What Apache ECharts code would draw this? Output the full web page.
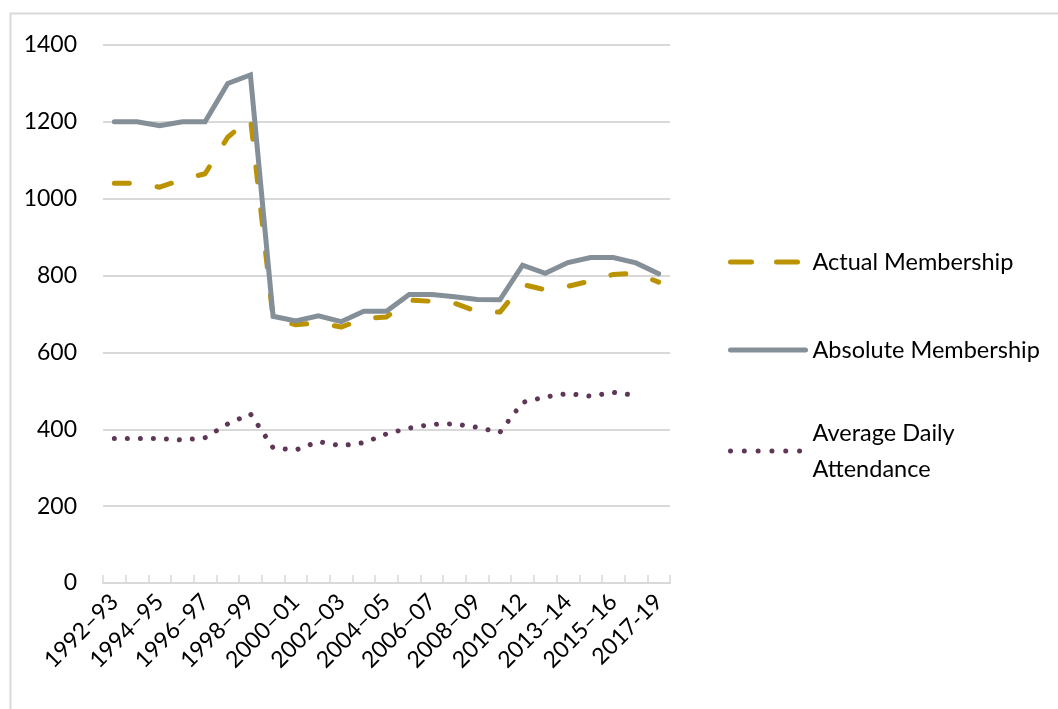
<!DOCTYPE html>
<html>
<head>
<meta charset="utf-8">
<style>
  html, body { margin: 0; padding: 0; background: #ffffff; }
  #chart { width: 1058px; height: 709px; }
</style>
<script src="https://cdn.jsdelivr.net/npm/echarts@6/dist/echarts.min.js"></script>
</head>
<body>
<div id="chart"></div>
<script>
// School years along the x axis
const years = [
  '1992–93', '1993–94', '1994–95', '1995–96', '1996–97', '1997–98', '1998–99',
  '1999–00', '2000–01', '2001–02', '2002–03', '2003–04', '2004–05', '2005–06',
  '2006–07', '2007–08', '2008–09', '2009–10', '2010–12', '2012–13', '2013–14',
  '2014–15', '2015–16', '2016–17', '2017-19'
];

// Enrolment figures per school year
const actualMembership = [
  1040, 1040, 1030, 1050, 1065, 1160, 1210, 688, 672, 677, 666, 688, 692,
  736, 733, 728, 706, 705, 777, 763, 772, 786, 803, 806, 783
];
const absoluteMembership = [
  1200, 1200, 1190, 1200, 1200, 1300, 1322, 694, 682, 695, 680, 707, 707,
  751, 751, 745, 738, 737, 827, 806, 834, 847, 847, 833, 805
];
const averageDailyAttendance = [
  376, 376, 376, 372, 378, 414, 440, 352, 346, 368, 357, 365, 388,
  403, 413, 414, 405, 392, 470, 484, 493, 486, 496, 488, null
];

// Value axis ticks
const yMin = 0, yMax = 1400, yStep = 200;

const FONT = 'Lato, "Open Sans", sans-serif';
const GOLD = '#BB9300';
const GREY = '#858F98';
const PLUM = '#5E3656';
const GRID = '#D9D9D9';

const GOLD_DASH = [15, 28];
const PLUM_DOTS = [0.01, 13];

const chart = echarts.init(document.getElementById('chart'), null, { renderer: 'canvas' });

const legendText = { color: '#000', fontFamily: FONT, fontSize: 23.5, padding: [0, 0, 0, 2] };
const legendBase = {
  left: 728, padding: 0, itemWidth: 75, itemHeight: 12, itemGap: 10,
  itemStyle: { opacity: 0, borderWidth: 0 },
  textStyle: legendText
};

chart.setOption({
  animation: false,
  backgroundColor: '#ffffff',
  textStyle: { fontFamily: FONT },
  graphic: [{
    type: 'rect',
    left: 8, top: 11,
    shape: { width: 1200, height: 800 },
    style: { fill: 'none', stroke: GRID, lineWidth: 2 },
    silent: true, z: -10
  }],
  grid: { left: 103, right: 388, top: 45, bottom: 126, containLabel: false },
  xAxis: {
    type: 'category',
    data: years,
    boundaryGap: true,
    axisLine: { lineStyle: { color: GRID, width: 2 } },
    axisTick: { show: true, inside: true, length: 8, interval: 0, lineStyle: { color: GRID, width: 1.5 } },
    axisLabel: {
      interval: 1, rotate: 45, margin: 15,
      color: '#000', fontFamily: FONT, fontSize: 23
    }
  },
  yAxis: {
    type: 'value',
    min: yMin, max: yMax, interval: yStep,
    axisLine: { show: false },
    axisTick: { show: false },
    splitLine: { lineStyle: { color: GRID, width: 2 } },
    axisLabel: {
      margin: 26, color: '#000', fontFamily: FONT, fontSize: 23,
      formatter: v => String(v)
    }
  },
  legend: [
    Object.assign({}, legendBase, {
      data: ['Actual Membership'], top: 250,
      lineStyle: { width: 5, type: [21, 25], cap: 'round' }
    }),
    Object.assign({}, legendBase, {
      data: ['Absolute Membership'], top: 338,
      lineStyle: { width: 5, cap: 'round' }
    }),
    Object.assign({}, legendBase, {
      data: ['Average Daily Attendance'], top: 397,
      lineStyle: { width: 5, type: [0.01, 13.8], cap: 'round' },
      formatter: () => 'Average Daily\nAttendance',
      textStyle: Object.assign({}, legendText, { lineHeight: 36, padding: [36, 0, 0, 2] })
    })
  ],
  series: [
    {
      name: 'Actual Membership',
      type: 'line',
      data: actualMembership,
      symbol: 'none',
      z: 2,
      itemStyle: { color: GOLD },
      lineStyle: { color: GOLD, width: 5, type: GOLD_DASH, cap: 'round', join: 'round' }
    },
    {
      name: 'Absolute Membership',
      type: 'line',
      data: absoluteMembership,
      symbol: 'none',
      z: 3,
      itemStyle: { color: GREY },
      lineStyle: { color: GREY, width: 5, cap: 'round', join: 'miter' }
    },
    {
      name: 'Average Daily Attendance',
      type: 'line',
      data: averageDailyAttendance,
      symbol: 'none',
      z: 2,
      itemStyle: { color: PLUM },
      lineStyle: { color: PLUM, width: 5, type: PLUM_DOTS, cap: 'round', join: 'round' }
    }
  ]
});
</script>
</body>
</html>
